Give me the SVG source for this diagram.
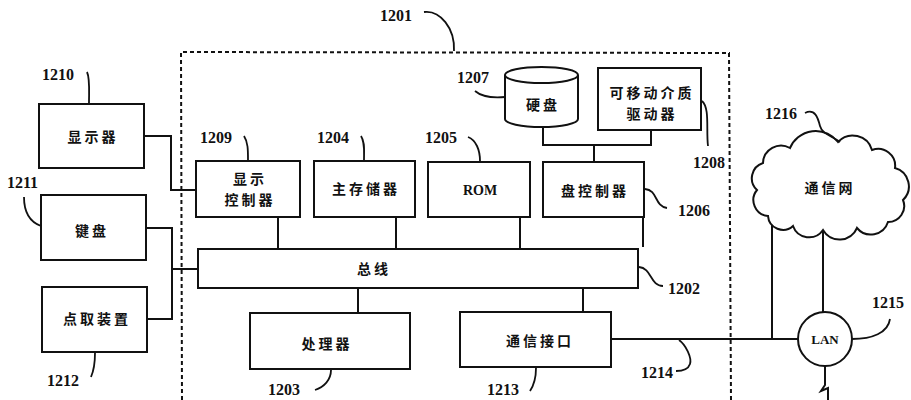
<svg xmlns="http://www.w3.org/2000/svg" width="911" height="400" viewBox="0 0 911 400">
<style>
.box{fill:#fff;stroke:#111;stroke-width:2}
.ln{fill:none;stroke:#111;stroke-width:2}
.ld{fill:none;stroke:#111;stroke-width:1.8}
.dash{fill:none;stroke:#111;stroke-width:2;stroke-dasharray:4 3}
.num{font-family:"Liberation Serif",serif;font-size:16px;font-weight:bold;fill:#111}
.cn{font-family:"Noto Sans CJK SC","Noto Sans",sans-serif;font-size:14px;font-weight:bold;fill:#111;letter-spacing:3px;text-anchor:middle;dominant-baseline:central}
.en{font-family:"Liberation Serif",serif;font-size:14px;font-weight:bold;fill:#111;text-anchor:middle;dominant-baseline:central}
</style>
<rect width="911" height="400" fill="#fff"/>
<g id="system-1201">
<path class="dash" d="M182,400 L181,52 L729,53 L731,400"/>
<text class="num" x="380" y="21">1201</text>
<path class="ld" d="M424,12 C440,10 455,28 454,51"/>
</g>
<g id="connectors">
<path class="ln" d="M144,136 L171,136 L171,190 L196,190"/>
<path class="ln" d="M146,228 L172,228 L172,319 L147,319"/>
<path class="ln" d="M172,269 L198,269"/>
<path class="ln" d="M278,217 L278,249"/>
<path class="ln" d="M396,217 L396,249"/>
<path class="ln" d="M520,217 L520,249"/>
<path class="ln" d="M643,217 L643,247"/>
<path class="ln" d="M358,288 L358,313"/>
<path class="ln" d="M583,288 L583,312"/>
<path class="ln" d="M543,127 L543,145 L651,145 L651,130"/>
<path class="ln" d="M594,145 L594,162"/>
<path class="ln" d="M611,339 L798,339"/>
<path class="ln" d="M772,222 L772,339"/>
<path class="ln" d="M823,230 L823,312"/>
<path class="ln" d="M825,366 L825,385 L821,391 L828,388 L828,400"/>
</g>
<g id="n1210">
<rect class="box" x="39" y="104" width="105" height="64"/>
<text class="cn" x="93" y="136">显示器</text>
<text class="num" x="42" y="80">1210</text>
<path class="ld" d="M87,72 C90,78 89,90 89,103"/>
</g>
<g id="n1211">
<rect class="box" x="41" y="195" width="105" height="65"/>
<text class="cn" x="92" y="230">键盘</text>
<text class="num" x="7" y="188">1211</text>
<path class="ld" d="M24,197 C24,212 30,222 41,226"/>
</g>
<g id="n1212">
<rect class="box" x="42" y="287" width="105" height="65"/>
<text class="cn" x="97" y="318">点取装置</text>
<text class="num" x="47" y="386">1212</text>
<path class="ld" d="M95,353 C95,363 94,370 91,377"/>
</g>
<g id="n1209">
<rect class="box" x="196" y="161" width="104" height="56"/>
<text class="cn" x="250" y="178">显示</text>
<text class="cn" x="250" y="199">控制器</text>
<text class="num" x="200" y="143">1209</text>
<path class="ld" d="M244,136 C248,142 248,150 248,160"/>
</g>
<g id="n1204">
<rect class="box" x="314" y="161" width="101" height="56"/>
<text class="cn" x="366" y="188">主存储器</text>
<text class="num" x="317" y="143">1204</text>
<path class="ld" d="M361,136 C365,142 364,150 364,160"/>
</g>
<g id="n1205">
<rect class="box" x="428" y="162" width="102" height="55"/>
<text class="en" x="480" y="190">ROM</text>
<text class="num" x="425" y="143">1205</text>
<path class="ld" d="M468,137 C476,140 480,150 480,161"/>
</g>
<g id="n1206">
<rect class="box" x="543" y="162" width="101" height="55"/>
<text class="cn" x="595" y="190">盘控制器</text>
<text class="num" x="678" y="216">1206</text>
<path class="ld" d="M645,189 C658,190 654,206 667,208"/>
</g>
<g id="n1207">
<path class="box" d="M505,75 L505,119 A36.5,8 0 0 0 578,119 L578,75 A36.5,8 0 0 0 505,75 Z"/>
<path class="ln" d="M505,75 A36.5,8 0 0 0 578,75"/>
<text class="cn" x="543" y="104">硬盘</text>
<text class="num" x="457" y="83">1207</text>
<path class="ld" d="M475,91 C482,97 494,98 505,97"/>
</g>
<g id="n1208">
<rect class="box" x="598" y="68" width="103" height="62"/>
<text class="cn" x="652" y="92">可移动介质</text>
<text class="cn" x="652" y="113">驱动器</text>
<text class="num" x="693" y="168">1208</text>
<path class="ld" d="M702,101 C710,108 706,130 708,146"/>
</g>
<g id="n1202">
<rect class="box" x="198" y="249" width="440" height="39"/>
<text class="cn" x="374" y="268">总线</text>
<text class="num" x="668" y="294">1202</text>
<path class="ld" d="M639,267 C652,268 650,286 663,286"/>
</g>
<g id="n1203">
<rect class="box" x="250" y="313" width="160" height="56"/>
<text class="cn" x="327" y="343">处理器</text>
<text class="num" x="268" y="395">1203</text>
<path class="ld" d="M331,370 C331,380 324,387 315,390"/>
</g>
<g id="n1213">
<rect class="box" x="460" y="312" width="151" height="55"/>
<text class="cn" x="540" y="340">通信接口</text>
<text class="num" x="487" y="395">1213</text>
<path class="ld" d="M536,368 C536,378 534,385 530,391"/>
</g>
<g id="n1214">
<text class="num" x="641" y="378">1214</text>
<path class="ld" d="M679,340 C686,345 692,358 690,364 C688,370 682,371 676,371"/>
</g>
<g id="n1215">
<circle class="box" cx="825" cy="339" r="27"/>
<text class="en" x="825" y="339" style="font-size:13px">LAN</text>
<text class="num" x="872" y="308">1215</text>
<path class="ld" d="M852,339 C872,339 888,333 890,319"/>
</g>
<g id="n1216">
<path class="box" d="M757,190 A16,16 0 0 1 763,163 A18,18 0 0 1 790,148 A28,28 0 0 1 838,142 A20,20 0 0 1 872,150 A17,17 0 0 1 895,168 A19,19 0 0 1 903,200 A16,16 0 0 1 888,222 A18,18 0 0 1 857,228 A19,19 0 0 1 823,230 A17,17 0 0 1 793,226 A15,15 0 0 1 768,216 A16,16 0 0 1 757,190 Z"/>
<text class="cn" x="830" y="187">通信网</text>
<text class="num" x="765" y="119">1216</text>
<path class="ld" d="M805,113 C815,108 818,118 820,126 C822,134 832,136 840,142"/>
</g>
</svg>
